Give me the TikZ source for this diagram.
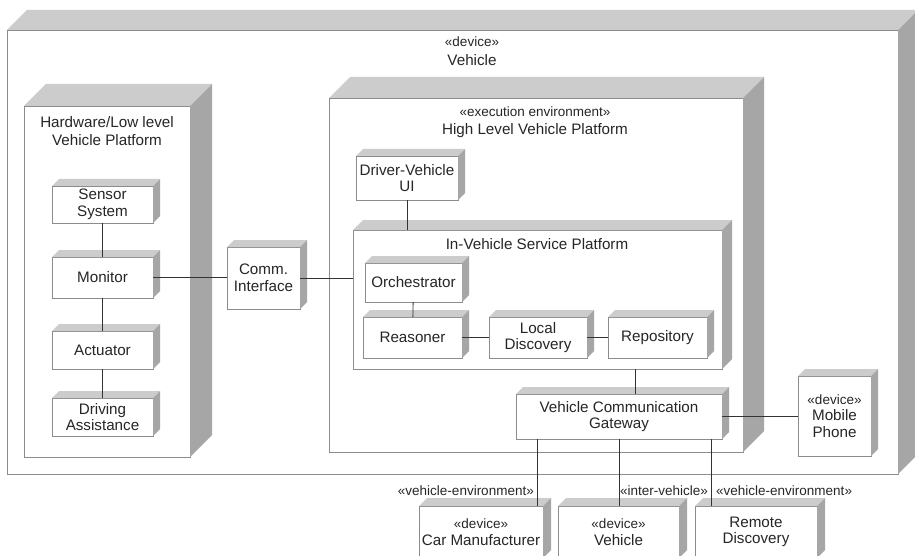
\documentclass[tikz,border=0pt]{standalone}
\usepackage{fontspec}
\setmainfont{Liberation Sans}
\usepackage{xcolor}
\usepackage{tikz}
\usetikzlibrary{calc}

\definecolor{topgray}{HTML}{CCCCCC}
\definecolor{sidegray}{HTML}{A6A6A6}
\definecolor{edgegray}{HTML}{8C8C8C}

\newcommand{\namefont}{\fontsize{15.2}{18.5}\selectfont}
\newcommand{\stereo}[1]{{\fontsize{13.5}{16}\selectfont «#1»}}
% shaded top and right side of a node
\newcommand{\nodedepth}[2]{%
  \fill[topgray] (#1.north west) -- ++(#2,-#2) -- ($(#1.north east)+(#2,-#2)$) -- (#1.north east) -- cycle;
  \fill[sidegray] (#1.north east) -- ++(#2,-#2) -- ($(#1.south east)+(#2,-#2)$) -- (#1.south east) -- cycle;
}

\tikzset{
  box/.style={draw=edgegray, line width=0.8pt, fill=white, inner sep=0pt, outer sep=0pt,
    anchor=north west, align=center, font=\namefont, text=black!85},
  boxsize/.style 2 args={minimum width=#1, minimum height=#2},
  title/.style={align=center, font=\namefont, text=black!85, inner sep=0pt},
  tag/.style={font=\fontsize{13.5}{16}\selectfont, text=black!85, inner sep=1pt},
  link/.style={draw=black!80, line width=0.8pt}
}

\begin{document}
\begin{tikzpicture}[x=1pt, y=-1pt]
    \useasboundingbox (0,0) rectangle (915,556);
    \clip (0,0) rectangle (915,556);

    % Vehicle device
    \node[box, boxsize={891}{444}] (vehicle) at (7,30) {};
    \nodedepth{vehicle}{20}
    \node[title] (vehicle-title) at (472,51) {\stereo{device}\\Vehicle};

    % Hardware platform
    \node[box, boxsize={166}{351}] (hwplat) at (24,106) {};
    \nodedepth{hwplat}{22}
    \node[title] (hwplat-title) at (107,131) {Hardware/Low level\\Vehicle Platform};

    \node[box, boxsize={101}{37}] (sensor) at (52,186) {Sensor\\[-2pt]System};
    \nodedepth{sensor}{7}
    \node[box, boxsize={101}{41}] (monitor) at (52,257) {Monitor};
    \nodedepth{monitor}{7}
    \node[box, boxsize={101}{38}] (actuator) at (52,331) {Actuator};
    \nodedepth{actuator}{7}
    \node[box, boxsize={101}{38}] (driving) at (52,398) {Driving\\[-2pt]Assistance};
    \nodedepth{driving}{7}

    \node[box, boxsize={73}{62}] (comm) at (227,247) {Comm.\\[-2pt]Interface};
    \nodedepth{comm}{7}

    % High level platform
    \node[box, boxsize={414}{354}] (hlplat) at (329,98) {};
    \nodedepth{hlplat}{21}
    \node[title] (hlplat-title) at (535,122) {\stereo{execution environment}\\High Level Vehicle Platform};

    \node[box, boxsize={102}{44}] (dvui) at (356,156) {Driver-Vehicle\\[-2pt]UI};
    \nodedepth{dvui}{7}

    \node[box, boxsize={369}{139}] (ivsp) at (353,230) {};
    \nodedepth{ivsp}{10}
    \node[title] (ivsp-title) at (537,244) {In-Vehicle Service Platform};

    \node[box, boxsize={97}{39}] (orch) at (365,263) {Orchestrator};
    \nodedepth{orch}{7}
    \node[box, boxsize={99}{41}] (reasoner) at (363,317) {Reasoner};
    \nodedepth{reasoner}{7}
    \node[box, boxsize={98}{41}] (localdisc) at (489,317) {Local\\[-2pt]Discovery};
    \nodedepth{localdisc}{7}
    \node[box, boxsize={99}{41}] (repo) at (608,317) {Repository};
    \nodedepth{repo}{7}

    \node[box, boxsize={206}{45}] (gateway) at (516,394) {Vehicle Communication\\[-2pt]Gateway};
    \nodedepth{gateway}{7}

    \node[box, boxsize={73}{80}] (mobile) at (798,376) {\stereo{device}\\[-2pt]Mobile\\[-2pt]Phone};
    \nodedepth{mobile}{7}

    % outside devices
    \node[box, boxsize={124}{52}] (carman) at (419,506) {\stereo{device}\\[-2pt]Car Manufacturer};
    \nodedepth{carman}{8}
    \node[box, boxsize={121}{52}] (othveh) at (558,506) {\stereo{device}\\[-2pt]Vehicle};
    \nodedepth{othveh}{8}
    \node[box, boxsize={122}{52}] (remote) at (695,506) {Remote\\[-2pt]Discovery};
    \nodedepth{remote}{8}

    % connectors
    \coordinate (gw) at (635,0);
    \coordinate (l1) at (537,0);
    \coordinate (l2) at (619,0);
    \coordinate (l3) at (711,0);

    \draw[link] (sensor) -- (monitor);
    \draw[link] (monitor) -- (actuator);
    \draw[link] (actuator) -- (driving);
    \draw[link] (monitor.east) -- (comm.west |- monitor.east);
    \draw[link] (comm.east) -- (comm.east -| ivsp.west);
    \draw[link] (dvui.south) -- (dvui.south |- ivsp.north);
    \draw[link] (orch) -- (reasoner);
    \draw[link] (reasoner) -- (localdisc);
    \draw[link] (localdisc) -- (repo);
    \draw[link] (ivsp.south -| gw) -- (gateway.north -| gw);
    \draw[link] (gateway.east) -- (gateway.east -| mobile.west);
    \draw[link] (gateway.south -| l1) -- (carman.north -| l1);
    \draw[link] (gateway.south -| l2) -- (othveh.north -| l2);
    \draw[link] (gateway.south -| l3) -- (remote.north -| l3);

    \node[tag, anchor=east] (tag-car) at (535,491) {«vehicle-environment»};
    \node[tag, anchor=west] (tag-inter) at (619,491) {«inter-vehicle»};
    \node[tag, anchor=west] (tag-remote) at (715,491) {«vehicle-environment»};
\end{tikzpicture}
\end{document}
